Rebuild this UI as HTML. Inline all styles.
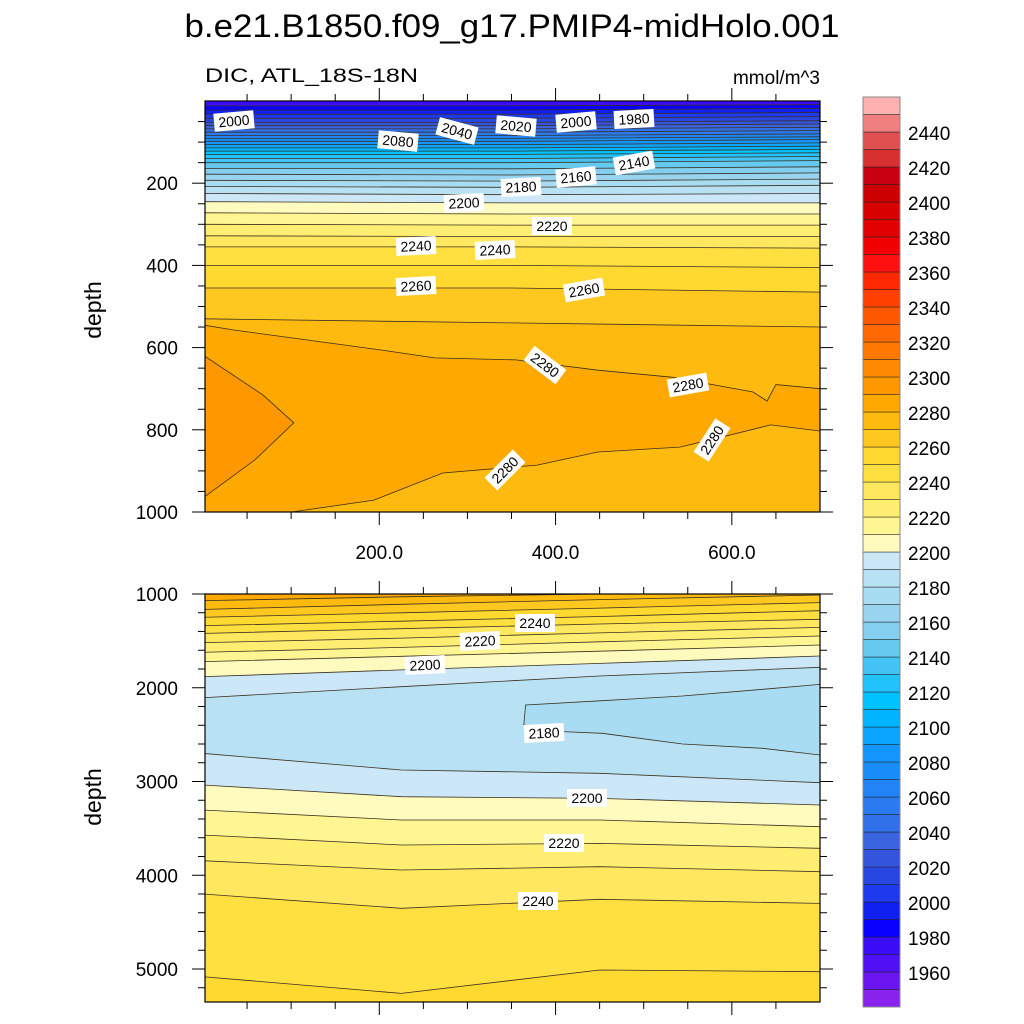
<!DOCTYPE html>
<html><head><meta charset="utf-8"><style>
html,body{margin:0;padding:0;background:#fff;}
svg{display:block;font-family:"Liberation Sans",sans-serif;}
</style></head><body>
<svg id="chart" width="1024" height="1024" viewBox="0 0 1024 1024" xmlns="http://www.w3.org/2000/svg">
<defs>
<clipPath id="clipTop"><rect x="205" y="101" width="615" height="411"/></clipPath>
<clipPath id="clipBot"><rect x="205" y="594" width="615" height="408"/></clipPath>
</defs>
<text x="512" y="37" font-size="32" text-anchor="middle" textLength="655" lengthAdjust="spacingAndGlyphs">b.e21.B1850.f09_g17.PMIP4-midHolo.001</text>
<text x="205" y="82" font-size="19" textLength="213" lengthAdjust="spacingAndGlyphs">DIC, ATL_18S-18N</text>
<text x="820" y="84" font-size="19" text-anchor="end">mmol/m^3</text>
<text transform="translate(101,310) rotate(-90)" font-size="23" text-anchor="middle">depth</text>
<text transform="translate(101,797) rotate(-90)" font-size="23" text-anchor="middle">depth</text>
<g id="topPanel"></g>
<g id="botPanel"></g>
<g id="axes"></g>
<g id="labels"></g>
<g id="cbar"></g>
</svg>
<script>
// colour table: band lower bounds 1940(<1950) .. 2450(>2450)
const bandLower = [1940,1950,1960,1970,1980,1990,2000,2010,2020,2030,2040,2050,2060,2070,2080,2090,2100,2110,2120,2130,2140,2150,2160,2170,2180,2190,2200,2210,2220,2230,2240,2250,2260,2270,2280,2290,2300,2310,2320,2330,2340,2350,2360,2370,2380,2390,2400,2410,2420,2430,2440,2450];
const bandColors = ["#8a22ee","#6a14f0","#5010f5","#3a0cf8","#0a00ff","#1020f0","#1e3aee","#2846e2","#3454de","#3a64e0","#3070e8","#2c7af0","#2284f5","#1a8ef8","#1496ff","#0ca6ff","#00b4ff","#00c2ff","#22c2fc","#44c4f4","#66caf0","#84cef0","#98d4f0","#a8dcf2","#b8e2f4","#cce8f8","#fffabe","#fff592","#ffee72","#ffe860","#ffe040","#ffd830","#ffc820","#ffba10","#ffa800","#ff9800","#ff8a00","#ff7800","#ff6800","#ff5800","#ff4000","#ff2800","#ff1010","#f00000","#e00000","#d80000","#cc0000","#c80010","#d83030","#e05050","#f08080","#ffb0b0"];
const cbarTickLabels = [1960,1980,2000,2020,2040,2060,2080,2100,2120,2140,2160,2180,2200,2220,2240,2260,2280,2300,2320,2340,2360,2380,2400,2420,2440];

// top panel (0-1000 m)
const topFineX = [0,34,203,263,355,448,532,624,640,650,700];
const topUpper2280 = [545,557,606,625,630,655,672,708,730,690,700];
const topLowerX = [0,101,194,272,379,448,541,588,644,700];
const topLower2280 = [1010,1000,971,905,886,854,842,818,788,803];
const topX = [0,350,700];
const topLevels = [2270,2260,2250,2240,2230,2220,2210,2200,2190,2180,2170,2160,2150,2140,2130,2120,2110,2100,2090,2080,2070,2060,2050,2040,2030,2020,2010,2000,1990,1980];
const topDepths = [[530,540,550],[455,455,465],[400,400,405],[355,355,358],[328,330,330],[300,302,302],[272,275,275],[245,248,248],[225,228,225],[208,210,205],[193,195,190],[178,180,175],[164,165,160],[150,150,145],[140,140,135],[130,130,126],[122,122,118],[114,114,110],[106,106,102],[98,98,94],[91,91,87],[84,84,80],[76,76,72],[68,68,64],[60,60,56],[52,52,48],[42,42,38],[32,32,28],[22,22,18],[12,12,9]];
const blob2290X = [0,68,103,59,0];
const blob2290D = [618,715,783,873,966];

// bottom panel (1000-5350 m)
const botX = [0,225,450,700];
const botLevels = [2250,2240,2230,2220,2210,2200,2190,2190,2200,2210,2220,2230,2240,2250,2260,2270,2280];
const botAbove  = [2240,2230,2220,2210,2200,2190,2180,2190,2200,2210,2220,2230,2240,2250,2260,2270,2280];
const botDepths = [[5082,5260,5011,5029],[4200,4353,4257,4300],[3845,3944,3909,3962],[3571,3677,3660,3713],[3304,3411,3411,3482],[3037,3162,3180,3251],[2700,2877,2913,3013],[2106,1989,1875,1782],[1882,1810,1740,1661],[1722,1665,1610,1544],[1622,1570,1510,1448],[1519,1470,1415,1356],[1420,1370,1320,1270],[1338,1290,1240,1178],[1249,1200,1150,1092],[1164,1110,1060,1011],[1071,1030,1000,985]];
const pool2180X = [364,366,453,544,635,700,700,635,544,453,408,364];
const pool2180D = [2397,2184,2138,2088,2017,1964,2717,2646,2600,2486,2468,2397];

const NS="http://www.w3.org/2000/svg";
function X(v){return 203+v*0.8814;}
function YT(d){return 101+d*0.411;}
function YB(d){return 594+(d-1000)*0.09375;}
function col(lb){return bandColors[bandLower.indexOf(lb)];}
function mk(tag,attrs,parent){const e=document.createElementNS(NS,tag);for(const k in attrs)e.setAttribute(k,attrs[k]);parent.appendChild(e);return e;}

const topEl=document.getElementById('topPanel');
const tg=mk('g',{'clip-path':'url(#clipTop)'},topEl);
const botEl=document.getElementById('botPanel');
const bg=mk('g',{'clip-path':'url(#clipBot)'},botEl);

function lineStr(xs,ds,Y){return xs.map((x,i)=>X(x).toFixed(1)+','+Y(ds[i]).toFixed(1)).join(' ');}
function fillAbove(g,xs,ds,Y,yTopPx,color,name){
  const pts=lineStr(xs,ds,Y)+' '+X(xs[xs.length-1]).toFixed(1)+','+yTopPx+' '+X(xs[0]).toFixed(1)+','+yTopPx;
  const p=mk('polygon',{points:pts,fill:color,stroke:'none'},g);
  
  
}
function drawLine(g,xs,ds,Y,name){
  const p=mk('polyline',{points:lineStr(xs,ds,Y),fill:'none',stroke:'#3a3020','stroke-width':'0.8'},g);
  
  
}

// top panel fills
let base=mk('rect',{x:205,y:101,width:615,height:411,fill:col(2270)},tg);


fillAbove(tg,topLowerX,topLower2280,YT,80,col(2280),'band-2280-lower');
fillAbove(tg,topFineX,topUpper2280,YT,80,col(2270),'band-2270');
topLevels.forEach((lv,i)=>fillAbove(tg,topX,topDepths[i],YT,80,col(lv-10),'band-'+(lv-10)));
const blob=mk('polygon',{points:lineStr(blob2290X,blob2290D,YT),fill:col(2290),stroke:'#3a3020','stroke-width':'0.8'},tg);


drawLine(tg,topLowerX,topLower2280,YT,'contour-2280-lower');
drawLine(tg,topFineX,topUpper2280,YT,'contour-2280-upper');
topLevels.forEach((lv,i)=>drawLine(tg,topX,topDepths[i],YT,'contour-'+lv));

// bottom panel fills
base=mk('rect',{x:205,y:594,width:615,height:408,fill:col(2250)},bg);


botLevels.forEach((lv,i)=>fillAbove(bg,botX,botDepths[i],YB,580,col(botAbove[i]),'band-'+botAbove[i]));
const pool=mk('polygon',{points:lineStr(pool2180X,pool2180D,YB),fill:col(2170),stroke:'#3a3020','stroke-width':'0.8'},bg);


botLevels.forEach((lv,i)=>drawLine(bg,botX,botDepths[i],YB,'contour-'+lv));

// axes
const ax=document.getElementById('axes');
function ln(x1,y1,x2,y2,w,name){const l=mk('line',{x1,y1,x2,y2,stroke:'#000','stroke-width':w},ax);}
function txt(x,y,s,anchor,size,name){const t=mk('text',{x,y,'font-size':size,'text-anchor':anchor},ax);t.textContent=s;}
[[101,512],[594,1002]].forEach(([y0,y1],pi)=>{
  const r=mk('rect',{x:205,y:y0,width:615,height:y1-y0,fill:'none',stroke:'#000','stroke-width':1.2},ax);
  
  
  for(let v=50;v<700;v+=50){
    const x=X(v),maj=v%200===0,L=maj?13:7;
    ln(x,y0,x,y0-L,1,'x-tick');ln(x,y1,x,y1+L,1,'x-tick');
  }
});
const xLabels=[200,400,600];
xLabels.forEach(v=>txt(X(v),559,v.toFixed(1),'middle',19,'x-tick-label'));
for(let d=50;d<=1000;d+=50){const y=YT(d),maj=d%200===0,L=maj?13:7;
  ln(205,y,205-L,y,1,'y-tick');ln(820,y,820+L,y,1,'y-tick');
  if(maj) txt(178,y+7,String(d),'end',19,'y-tick-label');}
for(let d=1000;d<=5350;d+=200){const y=YB(d),maj=d%1000===0,L=maj?13:7;
  ln(205,y,205-L,y,1,'y-tick');ln(820,y,820+L,y,1,'y-tick');
  if(maj) txt(178,y+7,String(d),'end',19,'y-tick-label');}

// contour labels
const lab=document.getElementById('labels');
const labelSpecs=[[234,121,"2000",-5],[398,141,"2080",5],[457,131,"2040",15],[516,126,"2020",5],[576,122,"2000",-5],[634,119,"1980",-3],[634,163,"2140",-10],[576,177,"2160",-5],[521,187,"2180",-3],[464,203,"2200",-3],[552,226,"2220",0],[416,246,"2240",-3],[495,250,"2240",-3],[416,286,"2260",-3],[584,290,"2260",-10],[545,365,"2280",37],[688,385,"2280",-10],[712,440,"2280",-57],[505,470,"2280",-45],[535,623,"2240",0],[480,641,"2220",-3],[425,665,"2200",-3],[544,733,"2180",-3],[587,798,"2200",0],[564,843,"2220",0],[538,901,"2240",0]];
labelSpecs.forEach(s=>{
  const g=mk('g',{transform:`translate(${s[0]},${s[1]}) rotate(${s[3]})`},lab);
  
  
  mk('rect',{x:-20,y:-9,width:40,height:18,fill:'#fff'},g);
  const t=mk('text',{x:0,y:5,'font-size':14,'text-anchor':'middle'},g);t.textContent=s[2];
});

// colorbar
const cb=document.getElementById('cbar');
const cbTop=97,boxH=17.5;
bandColors.forEach((c,i)=>{
  const y=cbTop+(bandColors.length-1-i)*boxH;
  const r=mk('rect',{x:863,y:y,width:37,height:boxH,fill:c,stroke:'#222','stroke-width':0.5},cb);
  
  
});
const fr=mk('rect',{x:863,y:cbTop,width:37,height:bandColors.length*boxH,fill:'none',stroke:'#888','stroke-width':1},cb);


cbarTickLabels.forEach(v=>{
  const y=133+(2440-v)*1.75;
  const t=mk('text',{x:908,y:y+7,'font-size':19},cb);t.textContent=String(v);
  
  
});
</script>
</body></html>
